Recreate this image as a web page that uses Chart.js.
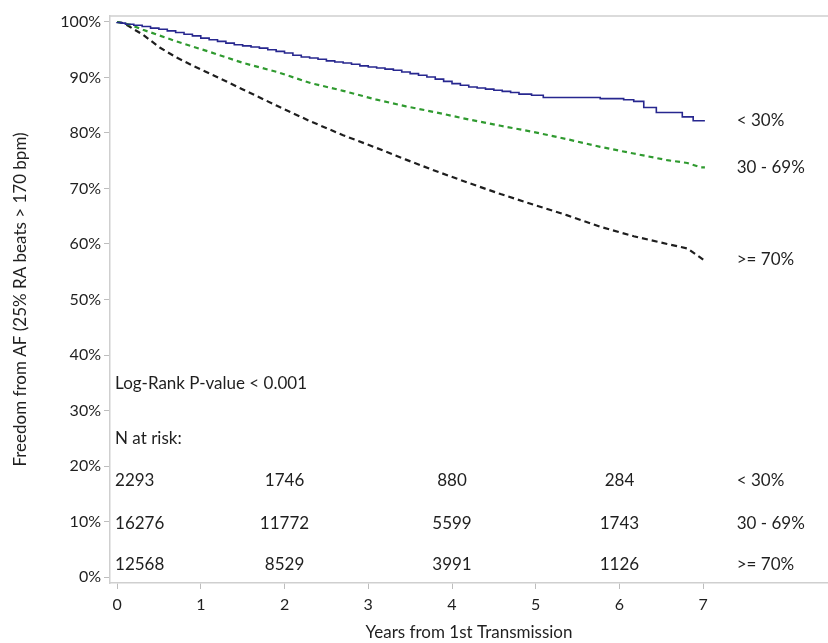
<!DOCTYPE html>
<html>
<head>
<meta charset="utf-8">
<script src="https://cdn.jsdelivr.net/npm/chart.js@4"></script>
<style>
  body { margin: 0; background: #fff; }
  #km { display: block; }
</style>
</head>
<body>
<canvas id="km" width="828" height="643"></canvas>
<script>
// Kaplan-Meier readings (years, % free from AF)
const lowYears = [0, 0.05, 0.1, 0.2, 0.3, 0.4, 0.5, 0.6, 0.7, 0.8, 0.9, 1.0, 1.1, 1.2, 1.3, 1.4, 1.5, 1.6, 1.7, 1.8, 1.9, 2.0, 2.1, 2.2, 2.3, 2.4, 2.5, 2.6, 2.7, 2.8, 2.9, 3.0, 3.1, 3.2, 3.3, 3.4, 3.5, 3.6, 3.7, 3.8, 3.9, 4.0, 4.1, 4.2, 4.3, 4.4, 4.5, 4.6, 4.7, 4.8, 4.95, 5.09, 5.77, 6.05, 6.17, 6.29, 6.44, 6.75, 6.88, 6.95, 7.02];
const lowSurv = [100, 99.9, 99.8, 99.6, 99.4, 99.2, 98.9, 98.7, 98.4, 98.1, 97.8, 97.5, 97.1, 96.8, 96.5, 96.2, 95.9, 95.7, 95.5, 95.3, 95.0, 94.7, 94.4, 94.0, 93.7, 93.5, 93.3, 93.0, 92.8, 92.6, 92.4, 92.1, 91.9, 91.7, 91.5, 91.3, 91.0, 90.7, 90.4, 90.1, 89.7, 89.3, 88.9, 88.6, 88.3, 88.1, 87.9, 87.7, 87.5, 87.3, 87.0, 86.8, 86.4, 86.2, 86.0, 85.7, 84.6, 83.7, 82.9, 82.2, 82.2];

const midYears = [0, 0.16, 0.31, 0.71, 1.11, 1.51, 1.91, 2.31, 2.70, 3.10, 3.45, 3.78, 4.18, 4.58, 4.97, 5.37, 5.77, 6.17, 6.57, 6.81, 6.97, 7.02];
const midSurv = [100, 99.5, 98.6, 96.5, 94.6, 92.6, 91.0, 89.0, 87.6, 86.0, 84.8, 83.8, 82.5, 81.3, 80.2, 78.9, 77.5, 76.3, 75.1, 74.6, 73.8, 73.8];

const highYears = [0, 0.08, 0.31, 0.51, 0.71, 0.91, 1.11, 1.51, 1.91, 2.31, 2.70, 3.10, 3.45, 3.78, 4.18, 4.58, 4.97, 5.37, 5.77, 6.17, 6.57, 6.81, 7.0];
const highSurv = [100, 99.8, 97.7, 95.4, 93.6, 92.1, 90.7, 87.8, 84.9, 82.1, 79.6, 77.3, 75.2, 73.3, 71.1, 69.0, 67.1, 65.2, 63.1, 61.4, 60.0, 59.2, 57.2];

const groupLabels = ['< 30%', '30 - 69%', '>= 70%'];

// number at risk table
const riskTimes = [0, 2, 4, 6];
const riskLow = [2293, 1746, 880, 284];
const riskMid = [16276, 11772, 5599, 1743];
const riskHigh = [12568, 8529, 3991, 1126];

const xTicks = [0, 1, 2, 3, 4, 5, 6, 7];
const yTicks = [0, 10, 20, 30, 40, 50, 60, 70, 80, 90, 100];

const FONT = 'Lato, "Open Sans", sans-serif';
const TXT = '#1f1f1f';

function pts(xs, ys) {
  return xs.map((x, i) => ({ x: x, y: ys[i] }));
}

// text inside the plot: p-value, risk table, curve labels
const notes = {
  id: 'notes',
  afterDatasetsDraw(chart) {
    const ctx = chart.ctx;
    const xs = chart.scales.x, ys = chart.scales.y;
    const area = chart.chartArea;
    ctx.save();
    // top frame line
    ctx.strokeStyle = '#cfcfcf';
    ctx.lineWidth = 1.5;
    ctx.beginPath();
    ctx.moveTo(area.left, area.top);
    ctx.lineTo(area.right, area.top);
    ctx.stroke();

    ctx.fillStyle = TXT;
    ctx.font = '17px ' + FONT;
    ctx.textBaseline = 'middle';
    const x0 = xs.getPixelForValue(0) - 2;
    ctx.textAlign = 'left';
    ctx.fillText('Log-Rank P-value < 0.001', x0, ys.getPixelForValue(34.8));
    ctx.fillText('N at risk:', x0, ys.getPixelForValue(24.9));

    const rows = [riskLow, riskMid, riskHigh];
    const rowY = [17.3, 9.7, 2.3];
    const labX = xs.getPixelForValue(7.4);
    rows.forEach((row, r) => {
      const py = ys.getPixelForValue(rowY[r]);
      row.forEach((n, i) => {
        ctx.textAlign = i === 0 ? 'left' : 'center';
        const px = i === 0 ? x0 : xs.getPixelForValue(riskTimes[i]);
        ctx.fillText(String(n), px, py);
      });
      ctx.textAlign = 'left';
      ctx.fillText(groupLabels[r], labX, py);
    });

    // labels at curve ends
    const ends = [lowSurv[lowSurv.length - 1], midSurv[midSurv.length - 1], highSurv[highSurv.length - 1]];
    ends.forEach((v, i) => {
      ctx.fillText(groupLabels[i], labX, ys.getPixelForValue(v));
    });
    ctx.restore();
  }
};

new Chart('km', {
  type: 'line',
  data: {
    datasets: [{
      label: groupLabels[0],
      data: pts(lowYears, lowSurv),
      borderColor: '#27278f',
      borderWidth: 1.6,
      stepped: 'after'
    }, {
      label: groupLabels[1],
      data: pts(midYears, midSurv),
      borderColor: '#2f9a2f',
      borderWidth: 2.2,
      borderDash: [5, 4]
    }, {
      label: groupLabels[2],
      data: pts(highYears, highSurv),
      borderColor: '#1e1e1e',
      borderWidth: 2.2,
      borderDash: [6, 4]
    }]
  },
  options: {
    responsive: false,
    animation: false,
    devicePixelRatio: 1,
    elements: { point: { radius: 0 }, line: { tension: 0 } },
    layout: { padding: { left: 6, top: 16, right: 0, bottom: 0 } },
    plugins: { legend: { display: false }, tooltip: { enabled: false } },
    scales: {
      x: {
        type: 'linear',
        min: -0.084,
        max: 8.49,
        afterBuildTicks: s => { s.ticks = xTicks.map(v => ({ value: v })); },
        afterFit: s => { s.height = 60; },
        border: { display: true, color: '#cfcfcf', width: 1.5 },
        grid: { drawOnChartArea: false, drawTicks: true, tickLength: 6, color: '#bdbdbd' },
        ticks: { color: TXT, font: { family: FONT, size: 16 }, padding: 6, maxRotation: 0 },
        title: { display: true, text: 'Years from 1st Transmission', color: TXT, font: { family: FONT, size: 17 }, padding: { top: 4, bottom: 0 } }
      },
      y: {
        min: -1.08,
        max: 101.08,
        afterBuildTicks: s => { s.ticks = yTicks.map(v => ({ value: v })); },
        afterFit: s => { s.width = 104; },
        border: { display: true, color: '#cfcfcf', width: 1.5 },
        grid: { drawOnChartArea: false, drawTicks: true, tickLength: 6, color: '#bdbdbd' },
        ticks: { color: TXT, font: { family: FONT, size: 16 }, padding: 3, callback: v => v + '%' },
        title: { display: true, text: 'Freedom from AF (25% RA beats > 170 bpm)', color: TXT, font: { family: FONT, size: 17 }, padding: { top: 4, bottom: 4 } }
      }
    }
  },
  plugins: [notes]
});
</script>
</body>
</html>
